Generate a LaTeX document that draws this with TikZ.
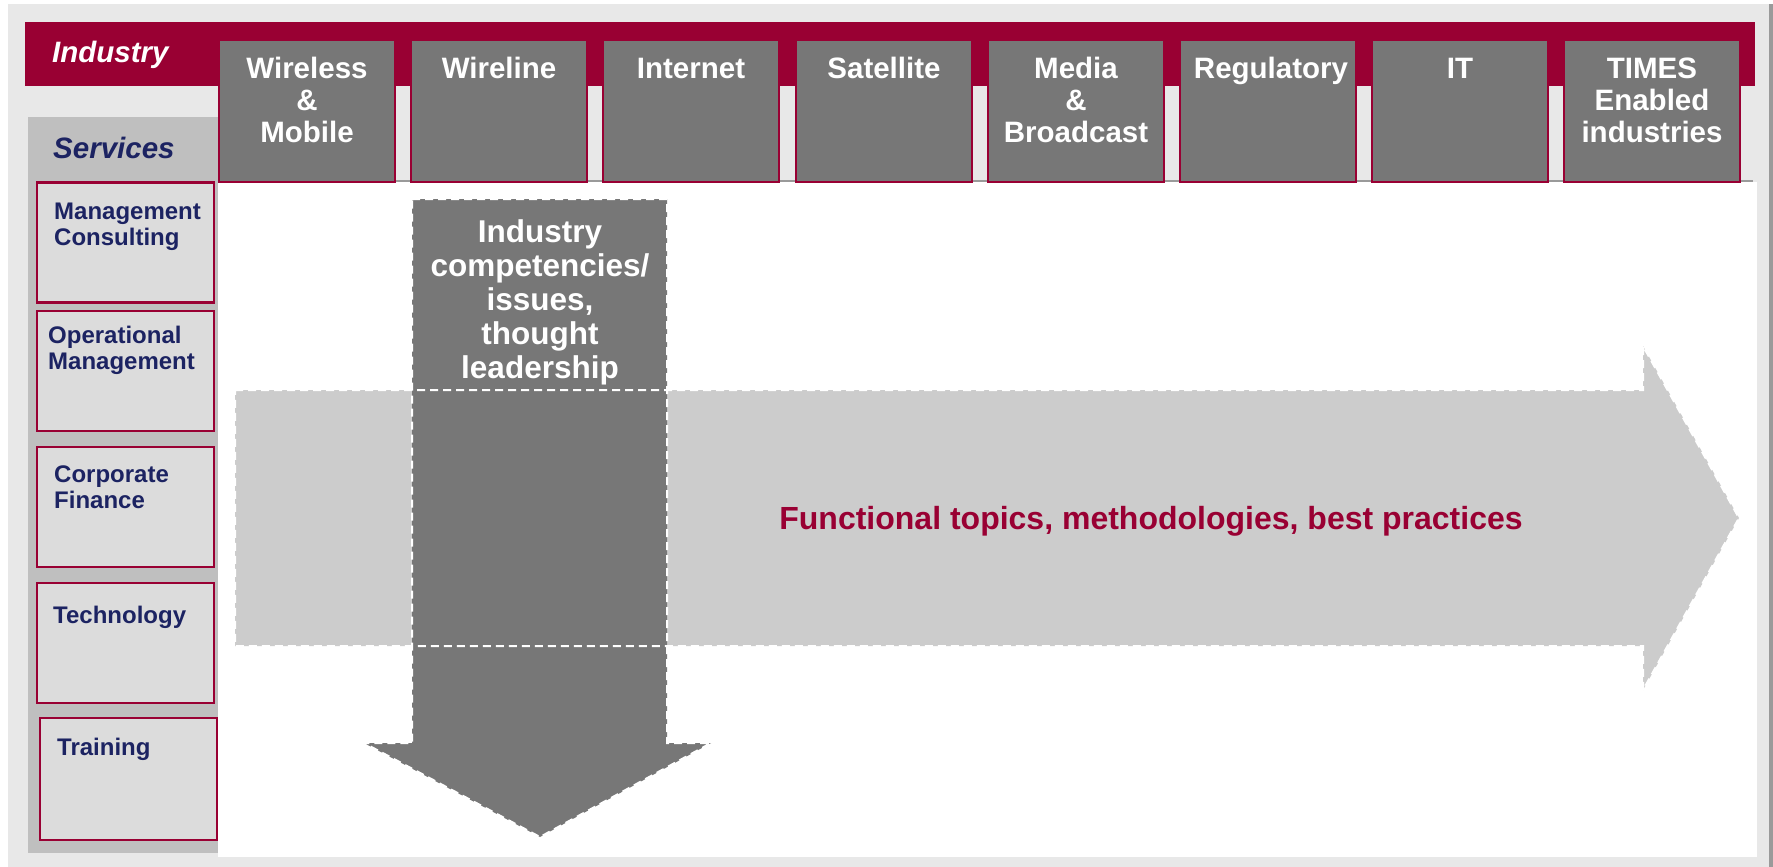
\documentclass[tikz,border=0pt]{standalone}
\usepackage{fontspec}
\setmainfont{Liberation Sans}
\definecolor{barred}{HTML}{990033}
\definecolor{colgray}{HTML}{777777}
\definecolor{framegray}{HTML}{E8E8E8}
\definecolor{panelgray}{HTML}{BFBFBF}
\definecolor{boxgray}{HTML}{DCDCDC}
\definecolor{arrowgray}{HTML}{CCCCCC}
\definecolor{rimgray}{HTML}{9A9A9A}
\definecolor{navy}{HTML}{1C2362}

\begin{document}
\begin{tikzpicture}[x = 1pt, y = -1pt,
        colbox/.style = {draw = barred, line width = 2pt, fill = colgray, minimum width = 176pt, minimum height = 142pt, inner sep = 0pt},
        coltxt/.style = {text = white, font = \bfseries\fontsize{29.5}{32}\selectfont, align = center, anchor = base, inner sep = 0pt},
        srvbox/.style = {draw = barred, line width = 2.5pt, fill = boxgray, minimum width = 177pt, minimum height = 120pt, inner sep = 0pt},
        srvtxt/.style = {text = navy, font = \bfseries\fontsize{24}{26}\selectfont, align = left, anchor = base west, inner sep = 0pt},
        dashrim/.style = {draw = white, line width = 2pt, dash pattern = on 8pt off 5pt}]
        \useasboundingbox (0, 0) rectangle (1773, 867);
        % frame, bar and panels
        \fill[white] (0, 0) rectangle (1773, 867);
        \fill[framegray] (8, 4) rectangle (1773, 867);
        \fill[rimgray] (1769, 4) rectangle (1773, 867);
        \fill[barred] (25, 22) rectangle (1755, 86);
        \fill[panelgray] (28, 117) rectangle (218, 853);
        \fill[white] (218, 182) rectangle (1757, 857);
        \draw[rimgray, line width = 2pt] (218, 181) -- (1753, 181);

        \node[text = white, font = \bfseries\itshape\fontsize{29.5}{32}\selectfont, anchor = base west, inner sep = 0pt] (industry) at (52, 63) {Industry};
        \node[text = navy, font = \bfseries\itshape\fontsize{29.5}{32}\selectfont, anchor = base west, inner sep = 0pt] (services) at (53, 158) {Services};

        % industry columns (base = last line)
        \node[colbox] (wireless) at (307, 111) {};
        \node[colbox] (wireline) at (499, 111) {};
        \node[colbox] (internet) at (691, 111) {};
        \node[colbox] (satellite) at (884, 111) {};
        \node[colbox] (media) at (1076, 111) {};
        \node[colbox] (regulatory) at (1268, 111) {};
        \node[colbox] (it) at (1460, 111) {};
        \node[colbox] (times) at (1652, 111) {};
        \node[coltxt] (wirelesstxt) at (307, 142) {Wireless\\\&\\Mobile};
        \node[coltxt] (wirelinetxt) at (499, 78) {Wireline};
        \node[coltxt] (internettxt) at (691, 78) {Internet};
        \node[coltxt] (satellitetxt) at (884, 78) {Satellite};
        \node[coltxt] (mediatxt) at (1076, 142) {Media\\\&\\Broadcast};
        \node[coltxt] (regulatorytxt) at (1271, 78) {Regulatory};
        \node[coltxt] (ittxt) at (1460, 78) {IT};
        \node[coltxt] (timestxt) at (1652, 142) {TIMES\\Enabled\\industries};

        % service rows
        \node[srvbox] (consulting) at (125.5, 242.5) {};
        \node[srvbox] (operational) at (125.5, 371) {};
        \node[srvbox] (finance) at (125.5, 507) {};
        \node[srvbox] (technology) at (125.5, 643) {};
        \node[srvbox, minimum height = 122pt] (training) at (128.5, 779) {};
        \node[srvtxt] (consultingtxt) at (54, 245) {Management\\Consulting};
        \node[srvtxt] (operationaltxt) at (48, 369) {Operational\\Management};
        \node[srvtxt] (financetxt) at (54, 508) {Corporate\\Finance};
        \node[srvtxt] (technologytxt) at (53, 623) {Technology};
        \node[srvtxt] (trainingtxt) at (57, 755) {Training};

        % the two big arrows
        \fill[arrowgray] (235, 390) -- (1643, 390) -- (1643, 346) -- (1739, 518) -- (1643, 690) -- (1643, 646) -- (235, 646) -- cycle;
        \fill[colgray] (412, 199) -- (667, 199) -- (667, 743) -- (711, 743) -- (540, 837) -- (364, 743) -- (412, 743) -- cycle;
        \draw[dashrim] (235, 390) -- (1643, 390) -- (1643, 346) -- (1739, 518) -- (1643, 690) -- (1643, 646) -- (235, 646) -- cycle;
        \draw[dashrim] (412, 199) -- (667, 199) -- (667, 743) -- (711, 743) -- (540, 837) -- (364, 743) -- (412, 743) -- cycle;

        \node[text = white, font = \bfseries\fontsize{31.5}{34}\selectfont, align = center, anchor = base, inner sep = 0pt] (competencies) at (540, 378) {Industry\\competencies/\\issues,\\thought\\leadership};
        \node[text = barred, font = \bfseries\fontsize{32}{36}\selectfont, anchor = base, inner sep = 0pt] (functional) at (1151, 529) {Functional topics, methodologies, best practices};
    \end{tikzpicture}
\end{document}
